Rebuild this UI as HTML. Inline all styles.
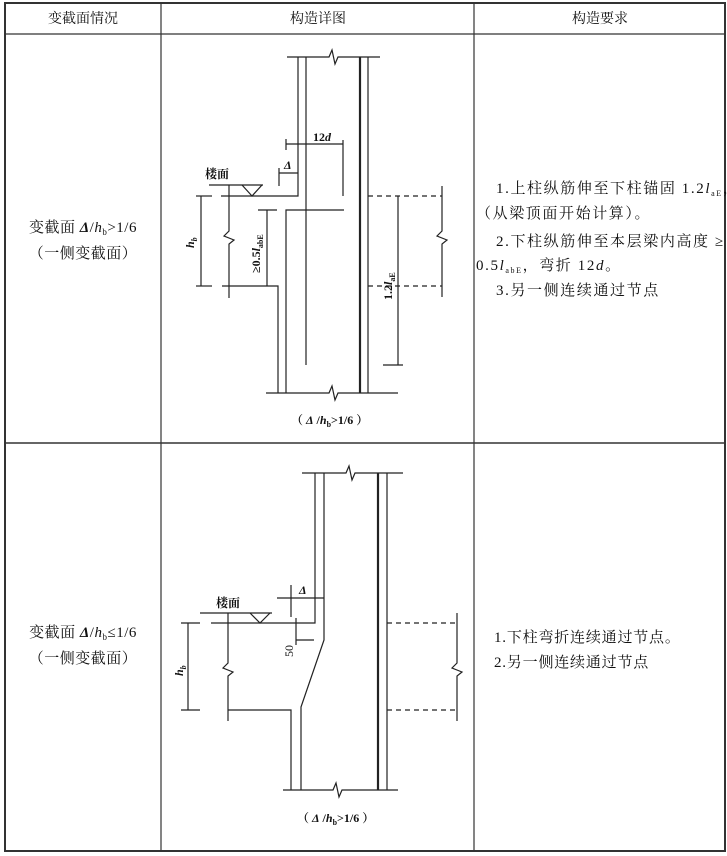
<!DOCTYPE html>
<html><head><meta charset="utf-8"><style>
body{margin:0;background:#fff;}
svg{display:block;}
text{font-family:"Liberation Serif","Noto Serif CJK SC",serif;fill:#111;}
</style></head><body>
<svg width="727" height="856" viewBox="0 0 727 856" xmlns="http://www.w3.org/2000/svg">
<g stroke="#333" fill="none">
<rect x="5" y="3" width="720" height="848" stroke-width="2"/>
<line x1="5" y1="34" x2="725" y2="34" stroke-width="1.2"/>
<line x1="5" y1="443" x2="725" y2="443" stroke-width="1.5"/>
<line x1="161" y1="3" x2="161" y2="851" stroke-width="1.2"/>
<line x1="474" y1="3" x2="474" y2="851" stroke-width="1.2"/>
</g>
<g font-size="14" text-anchor="middle">
<text x="83" y="23">变截面情况</text>
<text x="318" y="23">构造详图</text>
<text x="600" y="23">构造要求</text>
</g>
<g font-size="15" text-anchor="middle" letter-spacing="0.5">
<text x="83" y="232">变截面 <tspan font-style="italic" font-weight="bold">Δ</tspan>/<tspan font-style="italic">h</tspan><tspan font-size="9" dy="3">b</tspan><tspan dy="-3">&gt;1/6</tspan></text>
<text x="83" y="258">（一侧变截面）</text>
<text x="83" y="637">变截面 <tspan font-style="italic" font-weight="bold">Δ</tspan>/<tspan font-style="italic">h</tspan><tspan font-size="9" dy="3">b</tspan><tspan dy="-3">≤1/6</tspan></text>
<text x="83" y="663">（一侧变截面）</text>
</g>
<g font-size="15" letter-spacing="1.6">
<text x="496" y="193">1.上柱纵筋伸至下柱锚固 1.2<tspan font-style="italic">l</tspan><tspan font-size="8" dy="3">aE</tspan><tspan dy="-3">，</tspan></text>
<text x="476" y="218">（从梁顶面开始计算）。</text>
<text x="496" y="246">2.下柱纵筋伸至本层梁内高度 ≥</text>
<text x="476" y="270">0.5<tspan font-style="italic">l</tspan><tspan font-size="8" dy="3">abE</tspan><tspan dy="-3">，弯折 12<tspan font-style="italic">d</tspan>。</tspan></text>
<text x="496" y="295">3.另一侧连续通过节点</text>
</g>
<g font-size="15" letter-spacing="0.8">
<text x="494" y="642">1.下柱弯折连续通过节点。</text>
<text x="494" y="667">2.另一侧连续通过节点</text>
</g>

<!-- Figure 1 -->
<g stroke="#222" fill="none" stroke-width="1.2">
<polyline points="287,57 329,57 332,50 335,64 338,57 380,57"/>
<polyline points="266,393 329,393 332,386 335,400 338,393 398,393"/>
<polyline points="298,57 298,196 221,196"/>
<polyline points="222,286 278,286 278,393"/>
<line x1="306" y1="57" x2="306" y2="365"/>
<polyline points="344,210 286,210 286,393"/>
<line x1="360" y1="57" x2="360" y2="393" stroke-width="2.2"/>
<line x1="368" y1="57" x2="368" y2="393"/>
<line x1="209" y1="185" x2="263" y2="185"/>
<polyline points="242,185 252,196 262,185"/>
<polyline points="229,185 229,231 224,236 234,240 229,244 229,298"/>
<line x1="201" y1="196" x2="201" y2="286"/>
<line x1="196" y1="196" x2="212" y2="196"/>
<line x1="196" y1="286" x2="212" y2="286"/>
<line x1="286" y1="144" x2="343" y2="144"/>
<line x1="286" y1="139" x2="286" y2="150"/>
<line x1="343" y1="140" x2="343" y2="196"/>
<line x1="279" y1="173" x2="298" y2="173"/>
<line x1="279" y1="168" x2="279" y2="186"/>
<line x1="267" y1="210" x2="267" y2="286"/>
<line x1="258" y1="210" x2="277" y2="210"/>
<line x1="398" y1="196" x2="398" y2="365"/>
<line x1="383" y1="365" x2="403" y2="365"/>
<line x1="368" y1="196" x2="442" y2="196" stroke-dasharray="5,4"/>
<line x1="368" y1="286" x2="442" y2="286" stroke-dasharray="5,4"/>
<polyline points="442,186 442,231 437,236 447,240 442,244 442,297"/>
</g>
<g font-size="12" font-weight="bold">
<text x="313" y="141">12<tspan font-style="italic">d</tspan></text>
<text x="284" y="169" font-style="italic">Δ</text>
<text x="205" y="178">楼面</text>
<text transform="translate(194,248) rotate(-90)" font-style="italic">h<tspan font-size="8" dy="3">b</tspan></text>
<text transform="translate(260,273) rotate(-90)">≥0.5<tspan font-style="italic">l</tspan><tspan font-size="8" dy="3">abE</tspan></text>
<text transform="translate(392,300) rotate(-90)">1.2<tspan font-style="italic">l</tspan><tspan font-size="8" dy="3">aE</tspan></text>
<text x="291" y="424">（ <tspan font-style="italic">Δ</tspan> /<tspan font-style="italic">h</tspan><tspan font-size="8" dy="3">b</tspan><tspan dy="-3">&gt;1/6 ）</tspan></text>
</g>

<!-- Figure 2 -->
<g stroke="#222" fill="none" stroke-width="1.2">
<polyline points="302,473 346,473 349,466 352,480 355,473 403,473"/>
<polyline points="283,790 333,790 336,783 339,797 342,790 398,790"/>
<polyline points="315,473 315,623 211,623"/>
<polyline points="324,473 324,640 301,707 301,790"/>
<polyline points="228,710 291,710 291,790"/>
<line x1="378" y1="473" x2="378" y2="790" stroke-width="2.2"/>
<line x1="387" y1="473" x2="387" y2="790"/>
<line x1="200" y1="613" x2="272" y2="613"/>
<polyline points="250,613 260,623 270,613"/>
<polyline points="228,613 228,663 223,668 233,672 228,676 228,721"/>
<line x1="188" y1="623" x2="188" y2="710"/>
<line x1="181" y1="623" x2="200" y2="623"/>
<line x1="181" y1="710" x2="200" y2="710"/>
<line x1="277" y1="598" x2="324" y2="598"/>
<line x1="291" y1="585" x2="291" y2="617"/>
<line x1="296" y1="618" x2="296" y2="645"/>
<line x1="296" y1="640" x2="314" y2="640"/>
<line x1="387" y1="623" x2="457" y2="623" stroke-dasharray="5,4"/>
<line x1="387" y1="710" x2="457" y2="710" stroke-dasharray="5,4"/>
<polyline points="457,613 457,663 452,668 462,672 457,676 457,721"/>
</g>
<g font-size="12" font-weight="bold">
<text x="216" y="607">楼面</text>
<text x="299" y="594" font-style="italic">Δ</text>
<text transform="translate(293,657) rotate(-90)" font-weight="normal">50</text>
<text transform="translate(183,676) rotate(-90)" font-style="italic">h<tspan font-size="8" dy="3">b</tspan></text>
<text x="297" y="822">（ <tspan font-style="italic">Δ</tspan> /<tspan font-style="italic">h</tspan><tspan font-size="8" dy="3">b</tspan><tspan dy="-3">&gt;1/6 ）</tspan></text>
</g>
</svg>
</body></html>
